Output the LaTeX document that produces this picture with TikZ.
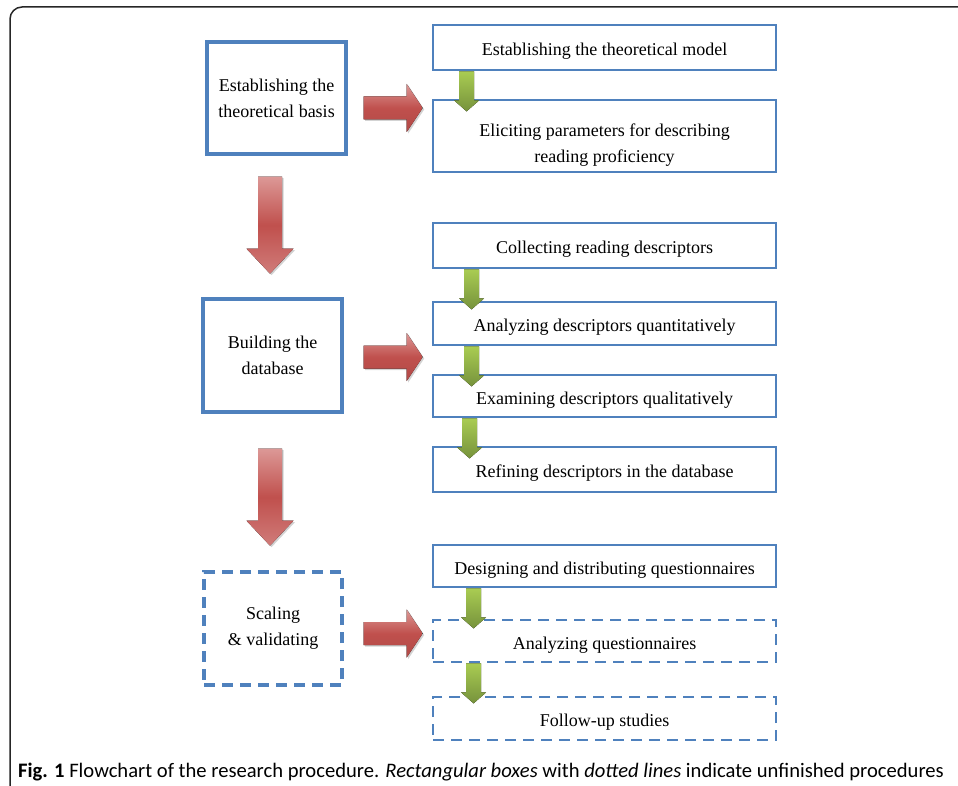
\documentclass[tikz,border=0pt]{standalone}
\usepackage{fontspec}
\setmainfont{Liberation Serif}
\newfontfamily\capfont{Carlito}
\usepackage{xcolor}
\usetikzlibrary{calc,shadows}
\definecolor{BoxBlue}{HTML}{4F81BD}
\definecolor{ArrowRed}{HTML}{C0504D}
\definecolor{ArrowPink}{HTML}{DC9896}
\definecolor{LeafGreen}{HTML}{A9CC52}
\definecolor{OliveGreen}{HTML}{76923C}

\begin{document}
\begin{tikzpicture}[x=1pt, y=-1pt,
      every node/.append style={font=\fontsize{18}{26}\selectfont, align=center, inner sep=0pt},
      stage/.style={draw=BoxBlue, line width=3.4pt, minimum width=139pt, minimum height=112pt},
      task/.style={draw=BoxBlue, line width=2.8pt, minimum width=343pt, text height=20pt, text depth=4pt},
      todo/.style={dash pattern=on 11pt off 7pt},
      redright/.pic={\fill[top color=ArrowPink, bottom color=ArrowRed!92!black, middle color=ArrowRed,
          drop shadow={shadow xshift=1.5pt, shadow yshift=-1.5pt, opacity=.35}]
          (0,-11.5) -- (43,-11.5) -- (43,-24) -- (59,0) -- (43,24) -- (43,11.5) -- (0,11.5) -- cycle;},
      reddown/.pic={\fill[top color=ArrowPink, bottom color=ArrowRed!75!white, middle color=ArrowRed,
          drop shadow={shadow xshift=1.5pt, shadow yshift=-1.5pt, opacity=.35}]
          (-12,0) -- (12,0) -- (12,72) -- (23.5,72) -- (0,97) -- (-23.5,72) -- (-12,72) -- cycle;},
      greendown/.pic={\fill[top color=LeafGreen, bottom color=OliveGreen]
          (-7.5,0) -- (7.5,0) -- (7.5,29) -- (12.5,29) -- (0,40) -- (-12.5,29) -- (-7.5,29) -- cycle;}]
    \useasboundingbox (0,0) rectangle (958,786);
    \clip (0,0) rectangle (958,786);
    \draw[line width=1.5pt, rounded corners=12pt, color=black!85] (10,7) rectangle (985,810);

    % stages
    \node (basis) [stage] at (276.5,98) {Establishing the\\theoretical basis};
    \node (database) [stage, minimum height=113pt] at (272.5,355.5) {Building the\\database};
    \node (scaling) [stage, todo, minimum width=138pt, minimum height=113pt] at (273,628.5) {Scaling\\\& validating};

    % steps
    \node (model) [task, minimum height=45pt] at (604.5,47.5) {Establishing the theoretical model};
    \node (params) [task, minimum height=72pt, text height=58pt] at (604.5,136) {Eliciting parameters for describing\\reading proficiency};
    \node (collect) [task, minimum height=45pt] at (604.5,245.5) {Collecting reading descriptors};
    \node (quant) [task, minimum height=43pt] at (604.5,323.5) {Analyzing descriptors quantitatively};
    \node (qual) [task, minimum height=42pt] at (604.5,396) {Examining descriptors qualitatively};
    \node (refine) [task, minimum height=45pt] at (604.5,469.5) {Refining descriptors in the database};
    \node (design) [task, minimum height=42pt] at (604.5,566) {Designing and distributing questionnaires};
    \node (analyze) [task, todo, minimum height=42pt] at (604.5,641) {Analyzing questionnaires};
    \node (follow) [task, todo, minimum height=43pt] at (604.5,718.5) {Follow-up studies};

    \pic at ($(basis.east)+(16,10)$) {redright};
    \pic at ($(database.east)+(20,1.5)$) {redright};
    \pic at ($(scaling.east)+(20,5)$) {redright};
    \pic at ($(basis.south)+(-6.5,21)$) {reddown};
    \pic at ($(database.south)+(-2.5,35)$) {reddown};

    \pic at ($(model.south west)+(35,0)$) {greendown};
    \pic at ($(collect.south west)+(40,0)$) {greendown};
    \pic at ($(quant.south west)+(40,0)$) {greendown};
    \pic at ($(qual.south west)+(38,0)$) {greendown};
    \pic at ($(design.south west)+(42,0)$) {greendown};
    \pic at ($(analyze.south west)+(42,0)$) {greendown};

    \node (caption) [anchor=base west, align=left, font=\capfont\fontsize{20.6}{24}\selectfont] at (18,777)
      {\textbf{Fig. 1} Flowchart of the research procedure. \textit{Rectangular boxes} with \textit{dotted lines} indicate unfinished procedures};
\end{tikzpicture}
\end{document}
